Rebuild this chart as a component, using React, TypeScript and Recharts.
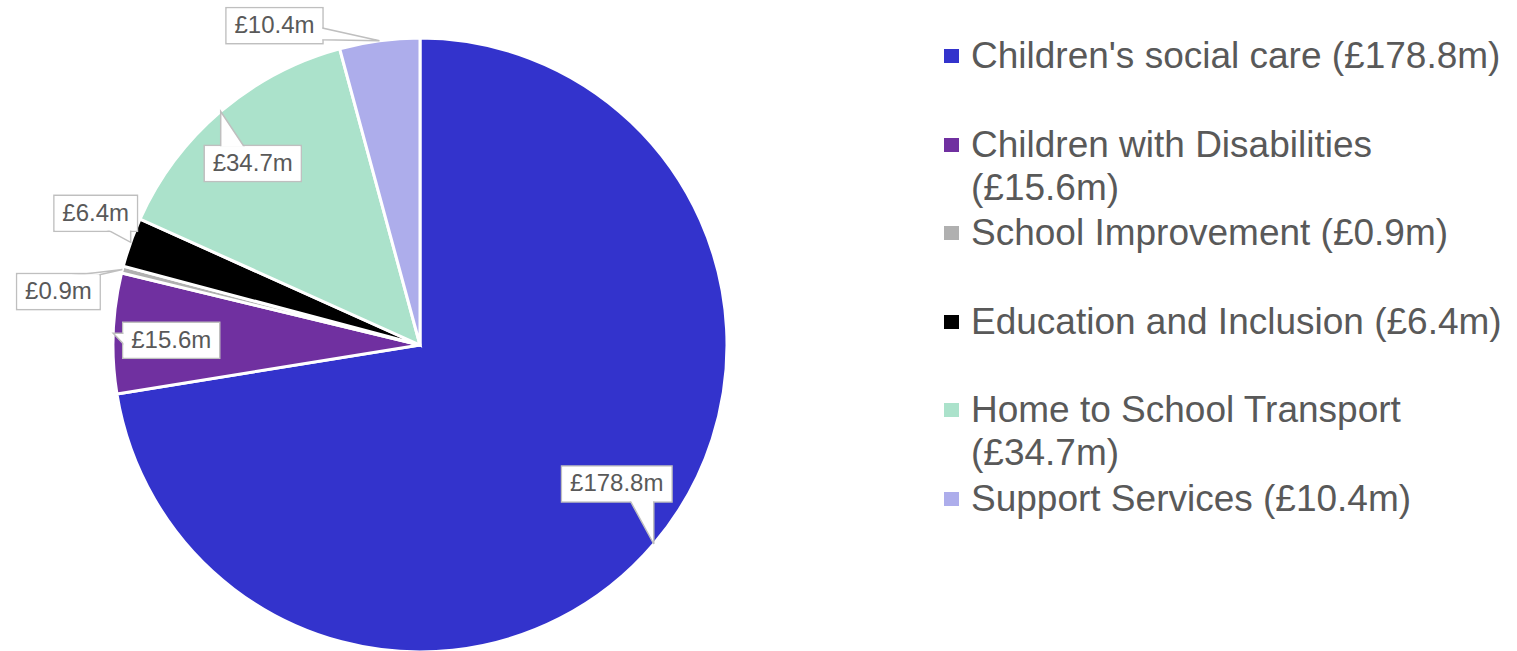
import { PieChart, Pie, Cell, Legend } from "recharts"

const categories = [
    "Children's social care",
    "Children with Disabilities",
    "School Improvement",
    "Education and Inclusion",
    "Home to School Transport",
    "Support Services",
]
const amounts = [178.8, 15.6, 0.9, 6.4, 34.7, 10.4]
const labels = ["£178.8m", "£15.6m", "£0.9m", "£6.4m", "£34.7m", "£10.4m"]
const colors = ["#3333CC", "#7030A0", "#B0B0B0", "#000000", "#ABE2CB", "#ADADEB"]

// where each callout box sits, relative to the point it points at
const calloutOffsets = [
    [-37, -60],
    [58, 7],
    [-64, 22],
    [-35, -29],
    [32, 52],
    [-105, -15],
]

const data = categories.map((name, i) => ({ name, value: amounts[i], label: labels[i] }))

const RAD = Math.PI / 180
const FONT = "'Liberation Sans', Arial, sans-serif"

function Callout(props: any) {
    const { cx, cy, midAngle, outerRadius, index } = props
    const tx = cx + outerRadius * Math.cos(-midAngle * RAD)
    const ty = cy + outerRadius * Math.sin(-midAngle * RAD)
    const [dx, dy] = calloutOffsets[index]
    const text = labels[index]
    const w = text.length * 13.5 + 16
    const h = 36
    const bx = tx + dx - w / 2
    const by = ty + dy - h / 2
    const ccx = tx + dx
    const ccy = ty + dy

    // wedge base on the side facing the tip
    let base: number[][]
    const inset = 2
    if (ty < by) {
        const a = Math.min(Math.max(tx, bx + 4), bx + w - 4)
        const b = a < ccx ? Math.min(a + 24, bx + w - 4) : Math.max(a - 24, bx + 4)
        base = [[a, by + inset], [b, by + inset]]
    } else if (ty > by + h) {
        const a = Math.min(Math.max(tx, bx + 4), bx + w - 4)
        const b = a < ccx ? Math.min(a + 24, bx + w - 4) : Math.max(a - 24, bx + 4)
        base = [[a, by + h - inset], [b, by + h - inset]]
    } else if (tx < bx) {
        const a = Math.min(Math.max(ty, by + 4), by + h - 4)
        const b = a < ccy ? a + 12 : a - 12
        base = [[bx + inset, a], [bx + inset, b]]
    } else {
        const a = Math.min(Math.max(ty, by + 4), by + h - 4)
        const b = a < ccy ? a + 12 : a - 12
        base = [[bx + w - inset, a], [bx + w - inset, b]]
    }
    const wedge = `M${base[0][0]},${base[0][1]} L${tx},${ty} L${base[1][0]},${base[1][1]} Z`

    return (
        <g>
            <rect x={bx} y={by} width={w} height={h} fill="#fff" stroke="#BFBFBF" strokeWidth={1.5} />
            <path d={wedge} fill="#fff" stroke="#BFBFBF" strokeWidth={1.5} />
            <rect x={bx + 0.8} y={by + 0.8} width={w - 1.6} height={h - 1.6} fill="#fff" />
            <text
                x={ccx}
                y={ccy + 1}
                textAnchor="middle"
                dominantBaseline="middle"
                fontFamily={FONT}
                fontSize={24}
                fill="#595959"
            >
                {text}
            </text>
        </g>
    )
}

function SideLegend() {
    return (
        <div style={{ fontFamily: FONT, fontSize: 37, lineHeight: "43px", color: "#595959" }}>
            {categories.map((name, i) => (
                <div key={name} style={{ position: "relative", height: 88.5, paddingLeft: 27 }}>
                    <span
                        style={{
                            position: "absolute",
                            left: 0,
                            top: 15,
                            width: 15,
                            height: 14,
                            background: colors[i],
                        }}
                    />
                    <div style={{ width: 545, whiteSpace: "normal" }}>
                        {name} ({labels[i]})
                    </div>
                </div>
            ))}
        </div>
    )
}

export default function App() {
    return (
        <div style={{ position: "absolute", left: 0, top: 0, width: 1517, height: 651, background: "#fff" }}>
            <PieChart width={1517} height={651} margin={{ top: 0, right: 0, bottom: 0, left: 0 }}>
                <Pie
                    data={data}
                    dataKey="value"
                    nameKey="name"
                    cx={420}
                    cy={345}
                    outerRadius={307}
                    startAngle={90}
                    endAngle={-270}
                    stroke="#fff"
                    strokeWidth={3}
                    label={Callout}
                    labelLine={false}
                    isAnimationActive={false}
                >
                    {data.map((d, i) => (
                        <Cell key={d.name} fill={colors[i]} />
                    ))}
                </Pie>
                <Legend
                    content={() => <SideLegend />}
                    wrapperStyle={{ position: "absolute", left: 944, top: 34, width: 573 }}
                />
            </PieChart>
        </div>
    )
}
